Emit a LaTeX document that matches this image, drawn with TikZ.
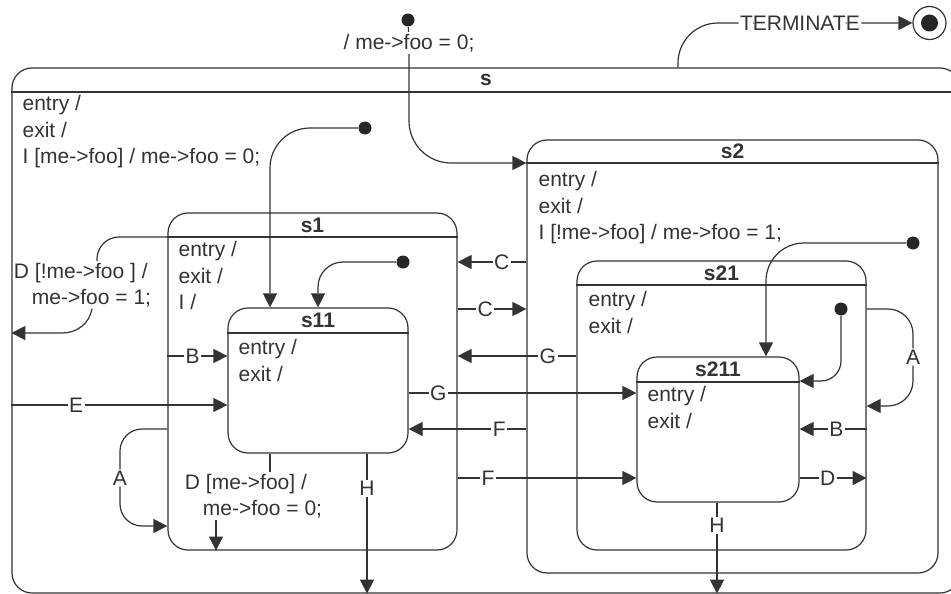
\documentclass[tikz,border=0pt]{standalone}
\usepackage{fontspec}
\setmainfont{Liberation Sans}
\usepackage{tikz}
\usetikzlibrary{arrows.meta,positioning,calc}

\begin{document}
\begin{tikzpicture}[
  x=1pt, y=-1pt,
  font=\fontsize{21}{26.5}\selectfont,
  every path/.style={line width=1.2pt, black!80},
  state/.style={draw, rounded corners=20pt, inner sep=0pt},
  ttl/.style={font=\fontsize{21}{26.5}\selectfont\bfseries, inner sep=0pt},
  acts/.style={anchor=north west, align=left, inner sep=0pt},
  lab/.style={fill=white, inner sep=1.5pt},
  tr/.style={-{Triangle[length=14pt,width=14pt]}},
  init/.style={circle, fill=black!85, inner sep=0pt, minimum size=13pt},
  fstate/.style={circle, draw, inner sep=0pt, minimum size=33pt},
]
\useasboundingbox (0,0) rectangle (951,594);

% ---------- States ----------
\node[state, minimum width=948pt, minimum height=525pt] (s) at (486,330.5) {};
\node[state, minimum width=411pt, minimum height=433pt] (s2) at (732.5,356.5) {};
\node[state, minimum width=289pt, minimum height=337pt] (s1) at (312.5,381.5) {};
\node[state, minimum width=180pt, minimum height=145pt] (s11) at (318,380.5) {};
\node[state, minimum width=289pt, minimum height=289pt] (s21) at (721.5,405.5) {};
\node[state, minimum width=162pt, minimum height=145pt] (s211) at (718,429.5) {};

\draw (s.west |- 0,92) -- (s.east |- 0,92);
\draw (s2.west |- 0,163) -- (s2.east |- 0,163);
\draw (s1.west |- 0,237) -- (s1.east |- 0,237);
\draw (s11.west |- 0,333) -- (s11.east |- 0,333);
\draw (s21.west |- 0,285) -- (s21.east |- 0,285);
\draw (s211.west |- 0,382) -- (s211.east |- 0,382);

\node[ttl] (s-t) at (s.north |- 0,80) {s};
\node[ttl] (s2-t) at (s2.north |- 0,151.5) {s2};
\node[ttl] (s1-t) at (s1.north |- 0,225) {s1};
\node[ttl] (s11-t) at (s11.north |- 0,320.5) {s11};
\node[ttl] (s21-t) at (s21.north |- 0,273) {s21};
\node[ttl] (s211-t) at (s211.north |- 0,369.5) {s211};

\node[acts] (s-a) at (22,95) {entry /\\exit /\\I [me->foo] / me->foo = 0;};
\node[acts] (s2-a) at (538,171) {entry /\\exit /\\I [!me->foo] / me->foo = 1;};
\node[acts] (s1-a) at (178,241) {entry /\\exit /\\I /};
\node[acts] (s11-a) at (238,339) {entry /\\exit /};
\node[acts] (s21-a) at (588,291) {entry /\\exit /};
\node[acts] (s211-a) at (647,386) {entry /\\exit /};

% ---------- Initial and final pseudostates ----------
\node[init] (top-i) at (408,20) {};
\node[init] (s-i) at (365,128) {};
\node[init] (s1-i) at (403,262) {};
\node[init] (s2-i) at (913,243) {};
\node[init] (s21-i) at (841,309) {};
\node[fstate] (fin) at (929.5,23) {};
\fill[black!85] (fin) circle (8.5);

\node[lab] (top-l) at (409,43) {/ me->foo = 0;};
\draw (top-i) -- (top-l);
\draw[tr, rounded corners=42pt] (top-l) |- (s2.west |- 0,163);
\draw[tr, rounded corners=40pt] (s-i) -| (s11.north -| 270,0);
\draw[tr, rounded corners=25pt] (s1-i) -| (s11.north);
\draw[tr, rounded corners=38pt] (s2-i) -| (s211.north -| 766,0);
\draw[tr, rounded corners=20pt] (s21-i) |- (s211.east |- 0,381);
\draw[tr, rounded corners=40pt] (s.north -| 678,0) |- node[lab, pos=0.76] {TERMINATE} (fin);

% ---------- Transitions ----------
\draw[tr] (s.west |- 0,405) -- node[lab, pos=0.3] {E} (s11.west |- 0,405);
\draw[tr] (s1.west |- 0,356) -- node[lab, pos=0.42] {B} (s11.west |- 0,356);
\draw[tr] (s2.west |- 0,262) -- node[lab, pos=0.36] {C} (s1.east |- 0,262);
\draw[tr] (s1.east |- 0,309) -- node[lab, pos=0.4] {C} (s2.west |- 0,309);
\draw[tr] (s21.west |- 0,356) -- node[lab, pos=0.24] {G} (s1.east |- 0,356);
\draw[tr] (s11.east |- 0,393) -- node[lab, pos=0.13] {G} (s211.west |- 0,393);
\draw[tr] (s2.west |- 0,429) -- node[lab, pos=0.23] {F} (s11.east |- 0,429);
\draw[tr] (s1.east |- 0,478) -- node[lab, pos=0.17] {F} (s211.west |- 0,478);
\draw[tr] (s21.east |- 0,429) -- node[lab, pos=0.45] {B} (s211.east |- 0,429);
\draw[tr] (s211.east |- 0,478) -- node[lab, pos=0.42] {D} (s21.east |- 0,478);
\draw[tr] (s11.south -| 367,0) -- node[lab, pos=0.25] {H} (s.south -| 367,0);
\draw[tr] (s211.south -| 717,0) -- node[lab, pos=0.25] {H} (s.south -| 717,0);

\draw[tr, rounded corners=22pt] (s1.west |- 0,429) -| (120,478) node[lab] {A}
      |- (s1.west |- 0,526);
\draw[tr, rounded corners=25pt] (s21.east |- 0,309) -| (913,357) node[lab] {A}
      |- (s21.east |- 0,406);

\node[align=left, inner sep=1pt] (dnot) at (82.5,285)
  {D [!me->foo ] /\\\hspace*{18pt}me->foo = 1;};
\draw[rounded corners=22pt] (s1.west |- 0,237) -| (dnot.north -| 97,0);
\draw[tr] (dnot.south -| 92,0) to[out=-100,in=0] (62,333) -- (s.west |- 0,333);

\node[align=left, inner sep=1pt] (dlab) at (253.5,496)
  {D [me->foo] /\\\hspace*{18pt}me->foo = 0;};
\draw (s11.south -| 270,0) -- (dlab.north -| 270,0);
\draw[tr] (dlab.south -| 216,0) -- (s1.south -| 216,0);

\end{tikzpicture}
\end{document}
